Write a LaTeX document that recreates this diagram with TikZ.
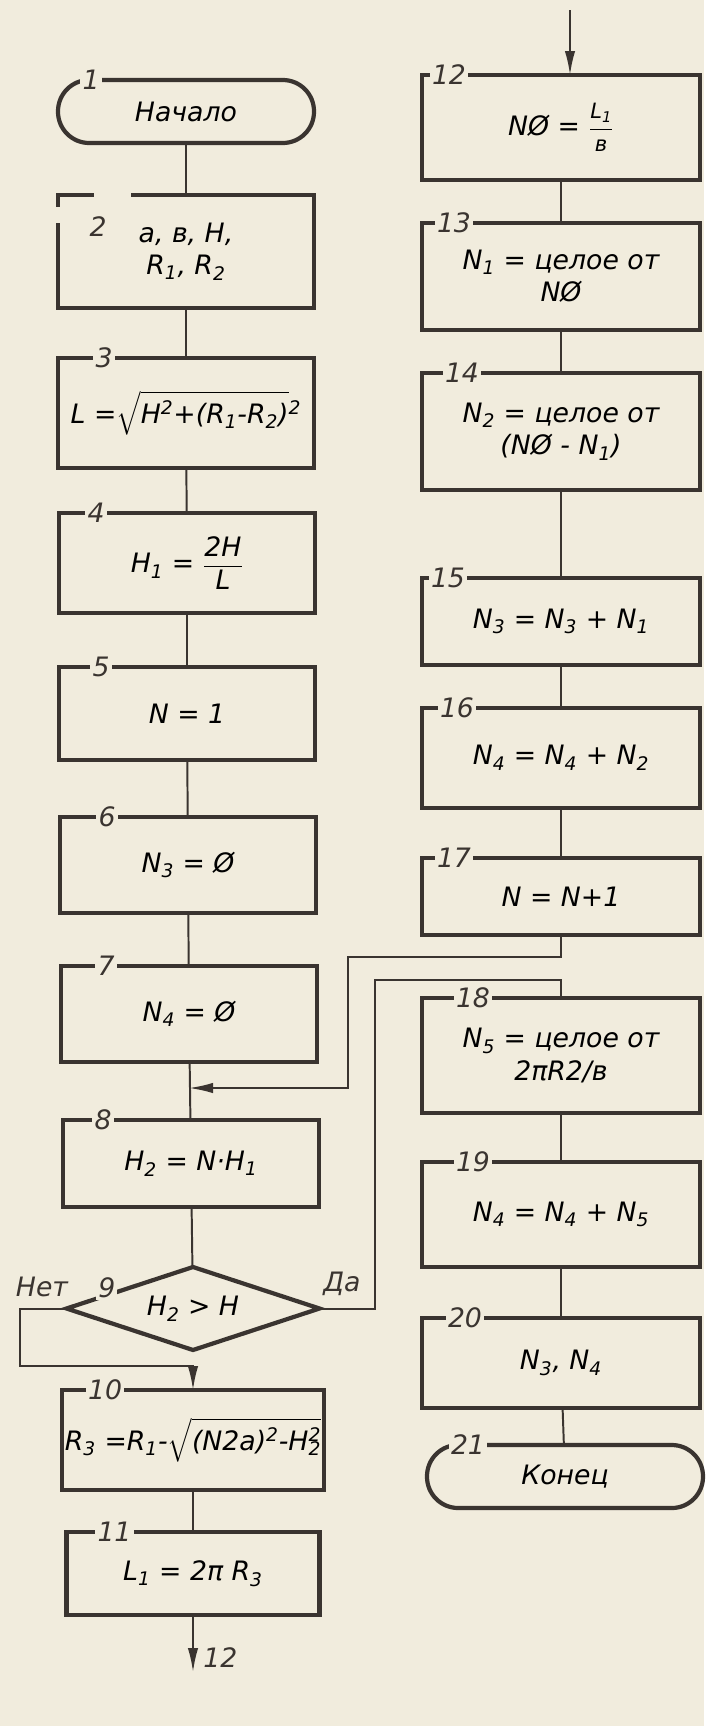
\documentclass[tikz,border=0pt]{standalone}
\usepackage{amsmath}
\usepackage{fontspec}
\setmainfont{DejaVu Sans}
\usepackage{xcolor}
\usetikzlibrary{arrows.meta, positioning, shapes.geometric}
\definecolor{paper}{RGB}{241,236,221}
\definecolor{ink}{RGB}{58,52,48}
\newcommand{\boxfont}{\fontsize{19}{23}\selectfont\itshape}
\newcommand{\fracfont}{\fontsize{15}{17}\selectfont}
\newcommand{\lowi}[1]{\textsubscript{#1}}
\newcommand{\uppi}[1]{\textsuperscript{#1}}

\begin{document}
\begin{tikzpicture}[>={Latex[length=0.6cm,width=0.26cm]},
  tag/.style 2 args={label={[num,anchor=center,xshift=#2]north west:#1}}]
 \tikzstyle{blockbox}=[rectangle,draw=ink,line width=3pt,minimum width=6.4cm,
   inner sep=2pt,outer sep=0pt,align=center,font=\boxfont]
 \tikzstyle{termbox}=[blockbox,rounded corners=0.78cm,minimum height=1.575cm]
 \tikzstyle{testbox}=[diamond,draw=ink,line width=3pt,aspect=3,
   minimum width=6.325cm,minimum height=2.075cm,inner sep=0pt,outer sep=0pt,
   font=\boxfont]
 \tikzstyle{num}=[fill=paper,inner sep=1.5pt,font=\boxfont,text=ink]
 \tikzstyle{flow}=[draw=ink,line width=1.4pt]
 \fill[paper] (0,0) rectangle (17.6,-43.15);
 % left column
 \node (t1) [termbox,tag={1}{0.825cm}] at (4.65,-2.7875) {Начало};
 \node (b2) [blockbox,minimum height=2.825cm] at (4.65,-6.2875)
   {a, в, H,\\R\lowi{1}, R\lowi{2}};
 \node (b3) [blockbox,minimum height=2.75cm,tag={3}{1.15cm}] at (4.65,-10.325)
   {L =$\sqrt{\mbox{H\uppi{2}+(R\lowi{1}-R\lowi{2})}}$\uppi{2}};
 \node (b4) [blockbox,minimum height=2.5cm,tag={4}{0.925cm}] at (4.675,-14.075)
   {H\lowi{1} = $\dfrac{\mbox{2H}}{\mbox{L}}$};
 \node (b5) [blockbox,minimum height=2.325cm,tag={5}{1.05cm}] at (4.675,-17.8375)
   {N = 1};
 \node (b6) [blockbox,minimum height=2.4cm,tag={6}{1.175cm}] at (4.7,-21.625)
   {N\lowi{3} = Ø};
 \node (b7) [blockbox,minimum height=2.4cm,tag={7}{1.125cm}] at (4.725,-25.35)
   {N\lowi{4} = Ø};
 \node (b8) [blockbox,minimum height=2.175cm,tag={8}{1cm}] at (4.775,-29.0875)
   {H\lowi{2} = N·H\lowi{1}};
 \node (d9) [testbox,tag={9}{-0.575cm}] at (4.825,-32.7125) {H\lowi{2} > H};
 \node (b10) [blockbox,minimum width=6.325cm,minimum height=2.5cm,
   tag={10}{1.075cm}] at (4.825,-36)
   {R\lowi{3} =R\lowi{1}-$\sqrt{\mbox{(N2a)\uppi{2}-H\rlap{\lowi{2}}\uppi{2}}}$};
 \node (b11) [blockbox,minimum width=6.325cm,minimum height=2.075cm,
   tag={11}{1.2cm}] at (4.825,-39.3375) {L\lowi{1} = 2π R\lowi{3}};
 % right column
 \node (b12) [blockbox,minimum width=6.95cm,minimum height=2.625cm,
   tag={12}{0.675cm}] at (14.025,-3.1875)
   {NØ = $\dfrac{\mbox{\fracfont L\lowi{1}}}{\mbox{\fracfont в}}$};
 \node (b13) [blockbox,minimum width=6.95cm,minimum height=2.675cm,
   tag={13}{0.8cm}] at (14.025,-6.9125) {N\lowi{1} = целое от\\NØ};
 \node (b14) [blockbox,minimum width=6.95cm,minimum height=2.925cm,
   tag={14}{1cm}] at (14.025,-10.7875) {N\lowi{2} = целое от\\(NØ - N\lowi{1})};
 \node (b15) [blockbox,minimum width=6.95cm,minimum height=2.175cm,
   tag={15}{0.65cm}] at (14.025,-15.5375) {N\lowi{3} = N\lowi{3} + N\lowi{1}};
 \node (b16) [blockbox,minimum width=6.95cm,minimum height=2.5cm,
   tag={16}{0.875cm}] at (14.025,-18.95) {N\lowi{4} = N\lowi{4} + N\lowi{2}};
 \node (b17) [blockbox,minimum width=6.95cm,minimum height=1.925cm,
   tag={17}{0.8cm}] at (14.025,-22.4125) {N = N+1};
 \node (b18) [blockbox,minimum width=6.95cm,minimum height=2.875cm,
   tag={18}{1.275cm}] at (14.025,-26.3875) {N\lowi{5} = целое от\\2πR2/в};
 \node (b19) [blockbox,minimum width=6.95cm,minimum height=2.625cm,
   tag={19}{1.275cm}] at (14.025,-30.3625) {N\lowi{4} = N\lowi{4} + N\lowi{5}};
 \node (b20) [blockbox,minimum width=6.95cm,minimum height=2.25cm,
   tag={20}{1.075cm}] at (14.025,-34.075) {N\lowi{3}, N\lowi{4}};
 \node (t21) [termbox,minimum width=6.9cm,tag={21}{1.025cm}]
   at (14.125,-36.9125) {Конец};
 % block 2 is an input block: gaps in its frame and its number inside
 \fill[paper] ([xshift=0.9cm,yshift=0.1cm]b2.north west)
   rectangle ([xshift=1.825cm,yshift=-0.1cm]b2.north west);
 \fill[paper] ([xshift=-0.1cm,yshift=-0.3cm]b2.north west)
   rectangle ([xshift=0.1cm,yshift=-0.7cm]b2.north west);
 \node (n2) [num] at ([xshift=1cm,yshift=-0.8cm]b2.north west) {2};
 % branch labels
 \node (no) [num] at (1.05,-32.175) {Нет};
 \node (yes) [num] at (8.55,-32.1) {Да};
 \coordinate (in12) at (14.25,-0.25);
 \coordinate (net) at (0.5,-34.15);
 \coordinate (da) at (9.375,-24.5);
 \coordinate (back) at (8.7,-23.925);
 \coordinate (entry) at (b7.south |- 0,-27.2);
 \coordinate (to12) at (b11.south |- 0,-41.8);
 % connectors
 \foreach \a/\b in {t1/b2,b2/b3,b3/b4,b4/b5,b5/b6,b6/b7,b7/b8,b8/d9,b10/b11,
   b12/b13,b13/b14,b14/b15,b15/b16,b16/b17,b18/b19,b19/b20,b20/t21}
   \draw[flow] (\a) -- (\b);
 \draw[flow,->] (in12) -- (in12 |- b12.north);
 \draw[flow,->] (b17.south) |- (back) |- (entry);
 \draw[flow] (d9.east) -| (da) -| (b18.north);
 \draw[flow,->] (d9.west) -| (net) -| (b10.north);
 \draw[flow,->] (b11.south) -- (to12);
 \node (go12) [num,anchor=west] at ([xshift=0.2cm,yshift=0.35cm]to12) {12};
\end{tikzpicture}
\end{document}
